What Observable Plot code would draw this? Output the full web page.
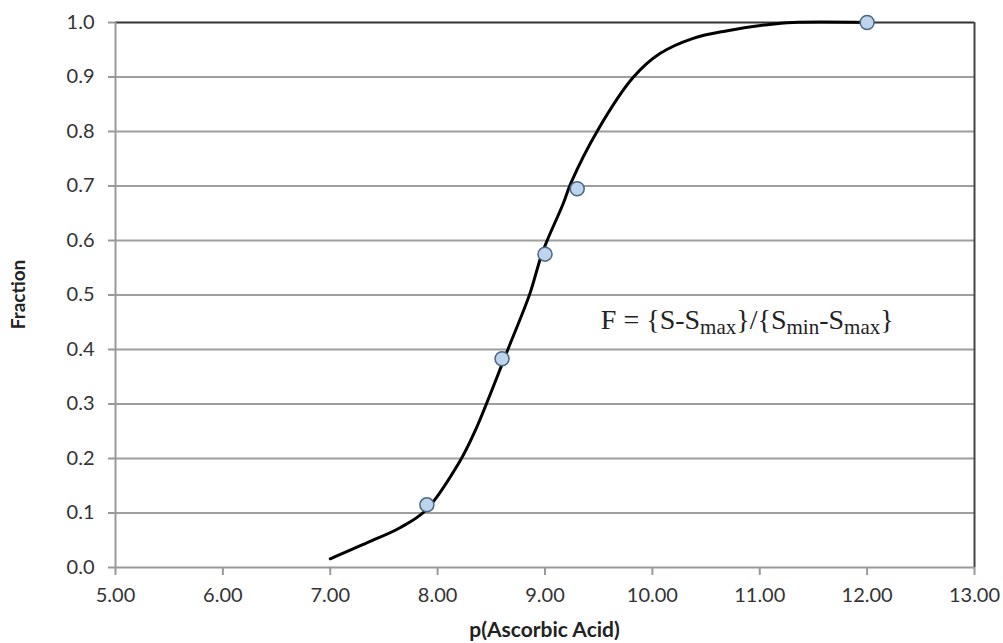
<!DOCTYPE html>
<html>
<head>
<meta charset="utf-8">
<script src="https://cdn.jsdelivr.net/npm/d3@7"></script>
<script src="https://cdn.jsdelivr.net/npm/@observablehq/plot@0.6"></script>
<style>
  html, body { margin: 0; padding: 0; background: #fff; }
</style>
</head>
<body>
<div id="chart"></div>
<script>
// Measured points
const pointX = [7.9, 8.6, 9.0, 9.3, 12.0];
const pointY = [0.115, 0.383, 0.575, 0.695, 1.0];

// Fitted curve
const curveX = [7.0, 7.35, 7.65, 7.89, 8.21, 8.35, 8.65, 8.86, 8.96, 9.02, 9.17, 9.24, 9.49, 9.82, 10.07, 10.38, 10.70, 11.07, 11.31, 12.0];
const curveY = [0.016, 0.046, 0.073, 0.105, 0.196, 0.251, 0.398, 0.503, 0.569, 0.600, 0.668, 0.705, 0.802, 0.899, 0.943, 0.971, 0.985, 0.996, 1.0, 1.0];

// Axis ticks
const xTicks = [5, 6, 7, 8, 9, 10, 11, 12, 13];
const yTicks = [0, 0.1, 0.2, 0.3, 0.4, 0.5, 0.6, 0.7, 0.8, 0.9, 1.0];

// Annotation
const formulaX = 9.52;
const formulaY = 0.438;

const points = pointX.map((x, i) => ({x, y: pointY[i]}));
const curve = curveX.map((x, i) => ({x, y: curveY[i]}));
const gridY = yTicks.filter(v => v > 0 && v < 1);

const chart = Plot.plot({
  width: 1003,
  height: 643,
  marginLeft: 115,
  marginRight: 29,
  marginTop: 22,
  marginBottom: 76,
  style: {fontFamily: "Lato, 'Open Sans', sans-serif", fontSize: "20px", color: "#333", background: "#fff"},
  x: {domain: [5, 13], ticks: xTicks, tickFormat: d3.format(".2f"), label: null},
  y: {domain: [0, 1], ticks: yTicks, tickFormat: d3.format(".1f"), label: null},
  marks: [
    Plot.ruleY(gridY, {stroke: "#9e9e9e", strokeWidth: 2}),
    Plot.ruleY([1], {stroke: "#333", strokeWidth: 2}),
    Plot.ruleX([13], {stroke: "#444", strokeWidth: 2}),
    Plot.ruleX([5], {stroke: "#999", strokeWidth: 2}),
    Plot.ruleY([0], {stroke: "#999", strokeWidth: 2}),
    Plot.axisX({ticks: xTicks, tickFormat: d3.format(".2f"), tickSize: 8, tickPadding: 12, stroke: "#999", strokeWidth: 2, fill: "#333", fontSize: 20, label: null}),
    Plot.axisY({ticks: yTicks, tickFormat: d3.format(".1f"), tickSize: 7, tickPadding: 14, stroke: "#999", strokeWidth: 2, fill: "#333", fontSize: 20, label: null}),
    Plot.line(curve, {x: "x", y: "y", curve: "catmull-rom", stroke: "#000", strokeWidth: 3}),
    Plot.dot(points, {x: "x", y: "y", r: 7, fill: "#bcd4ec", stroke: "#4a6785", strokeWidth: 1.5}),
    Plot.text([{x: formulaX, y: formulaY}], {x: "x", y: "y", text: () => "F", textAnchor: "start", lineAnchor: "bottom", className: "formula", fontSize: 28, fill: "#222"})
  ]
});

// Rich formula text with subscripts
const ftext = d3.select(chart).select("g.formula text");
ftext.text(null).style("font-family", "'Liberation Serif', 'Times New Roman', serif").attr("dy", null).attr("dominant-baseline", "alphabetic");
const parts = [
  ["F = {S-S", false], ["max", true], ["}/{S", false], ["min", true], ["-S", false], ["max", true], ["}", false]
];
parts.forEach(([t, sub], i) => {
  const ts = ftext.append("tspan").text(t);
  if (sub) ts.attr("font-size", 21).attr("dy", 5);
  else if (i > 0 && parts[i - 1][1]) ts.attr("dy", -5);
});

// Axis titles
const svg = d3.select(chart);
svg.append("text")
  .attr("x", (115 + 974) / 2).attr("y", 637)
  .attr("text-anchor", "middle")
  .style("font-family", "Lato, sans-serif").style("font-weight", "bold").style("font-size", "21px").attr("fill", "#222")
  .text("p(Ascorbic Acid)");
svg.append("text")
  .attr("transform", `translate(25, ${(22 + 567) / 2}) rotate(-90)`)
  .attr("text-anchor", "middle")
  .style("font-family", "Lato, sans-serif").style("font-weight", "bold").style("font-size", "19px").attr("fill", "#222")
  .text("Fraction");

document.getElementById("chart").appendChild(chart);
</script>
</body>
</html>
